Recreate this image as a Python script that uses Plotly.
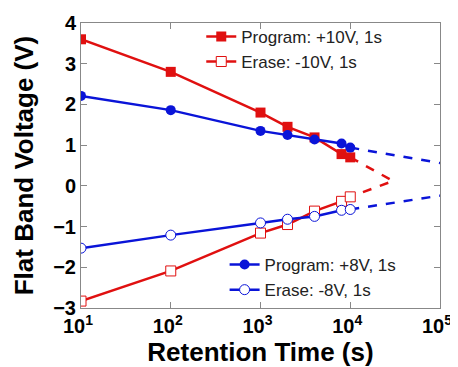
import plotly.graph_objects as go

t = [10, 100, 1000, 2000, 4000, 8000, 10000]
red_prog = [3.6, 2.8, 1.8, 1.45, 1.19, 0.78, 0.70]
red_erase = [-2.83, -2.09, -1.16, -0.95, -0.62, -0.38, -0.27]
blue_prog = [2.21, 1.86, 1.35, 1.25, 1.14, 1.04, 0.94]
blue_erase = [-1.53, -1.21, -0.91, -0.82, -0.75, -0.60, -0.58]

red_extrap_t = [10000, 30000, 10000]
red_extrap_v = [0.70, 0.12, -0.27]
blue_prog_ext_t = [10000, 100000]
blue_prog_ext_v = [0.94, 0.56]
blue_erase_ext_t = [10000, 100000]
blue_erase_ext_v = [-0.58, -0.24]

x_tickvals = [10, 100, 1000, 10000, 100000]
x_ticktext = ["10<sup>1</sup>", "10<sup>2</sup>", "10<sup>3</sup>", "10<sup>4</sup>", "10<sup>5</sup>"]
y_tickvals = [-3, -2, -1, 0, 1, 2, 3, 4]

RED = "#e01010"
BLUE = "#0a14d8"

fig = go.Figure()
fig.add_trace(go.Scatter(x=red_extrap_t, y=red_extrap_v, mode="lines",
                         line=dict(color=RED, width=2.5, dash="dash"), showlegend=False))
fig.add_trace(go.Scatter(x=blue_prog_ext_t, y=blue_prog_ext_v, mode="lines",
                         line=dict(color=BLUE, width=2.5, dash="dash"), showlegend=False))
fig.add_trace(go.Scatter(x=blue_erase_ext_t, y=blue_erase_ext_v, mode="lines",
                         line=dict(color=BLUE, width=2.5, dash="dash"), showlegend=False))

fig.add_trace(go.Scatter(x=t, y=red_prog, mode="lines+markers", name="Program: +10V, 1s",
                         line=dict(color=RED, width=2.5),
                         marker=dict(symbol="square", size=10, color=RED), legend="legend"))
fig.add_trace(go.Scatter(x=t, y=red_erase, mode="lines+markers", name="Erase: -10V, 1s",
                         line=dict(color=RED, width=2.5),
                         marker=dict(symbol="square", size=10, color="white",
                                     line=dict(color=RED, width=1)), legend="legend"))
fig.add_trace(go.Scatter(x=t, y=blue_prog, mode="lines+markers", name="Program: +8V, 1s",
                         line=dict(color=BLUE, width=2.5),
                         marker=dict(symbol="circle", size=10, color=BLUE), legend="legend2"))
fig.add_trace(go.Scatter(x=t, y=blue_erase, mode="lines+markers", name="Erase: -8V, 1s",
                         line=dict(color=BLUE, width=2.5),
                         marker=dict(symbol="circle", size=10, color="white",
                                     line=dict(color=BLUE, width=1)), legend="legend2"))

axis_common = dict(showline=True, linecolor="#888888", linewidth=1, mirror="ticks",
                   ticks="inside", ticklen=6, tickcolor="#888888", showgrid=False,
                   zeroline=False, automargin=False,
                   tickfont=dict(family="Liberation Sans, Arial", size=20, color="black", weight="bold"))

fig.update_xaxes(type="log", range=[1, 5], tickvals=x_tickvals, ticktext=x_ticktext,
                 ticklabelshift=-3,
                 title=dict(text="<b>Retention Time (s)</b>", standoff=2,
                            font=dict(family="Liberation Sans, Arial", size=26, color="black")),
                 **axis_common)
fig.update_yaxes(range=[-3, 4], tickvals=y_tickvals,
                 title=dict(text="<b>Flat Band Voltage (V)</b>", standoff=12,
                            font=dict(family="Liberation Sans, Arial", size=26, color="black")),
                 **axis_common)

legend_font = dict(family="Liberation Sans, Arial", size=17, color="#222222")
# page body has an 8px default margin, so the figure is sized/offset to compensate
fig.update_layout(
    width=450, height=359,
    margin=dict(l=73, r=18, t=14, b=59),
    paper_bgcolor="white", plot_bgcolor="white",
    legend=dict(x=0.335, y=1.011, xanchor="left", yanchor="top", font=legend_font,
                bgcolor="rgba(0,0,0,0)", tracegroupgap=0, itemwidth=30),
    legend2=dict(x=0.40, y=0.0, xanchor="left", yanchor="bottom", font=legend_font,
                 bgcolor="rgba(0,0,0,0)", tracegroupgap=0, itemwidth=30),
)

fig.write_html("out.html")
